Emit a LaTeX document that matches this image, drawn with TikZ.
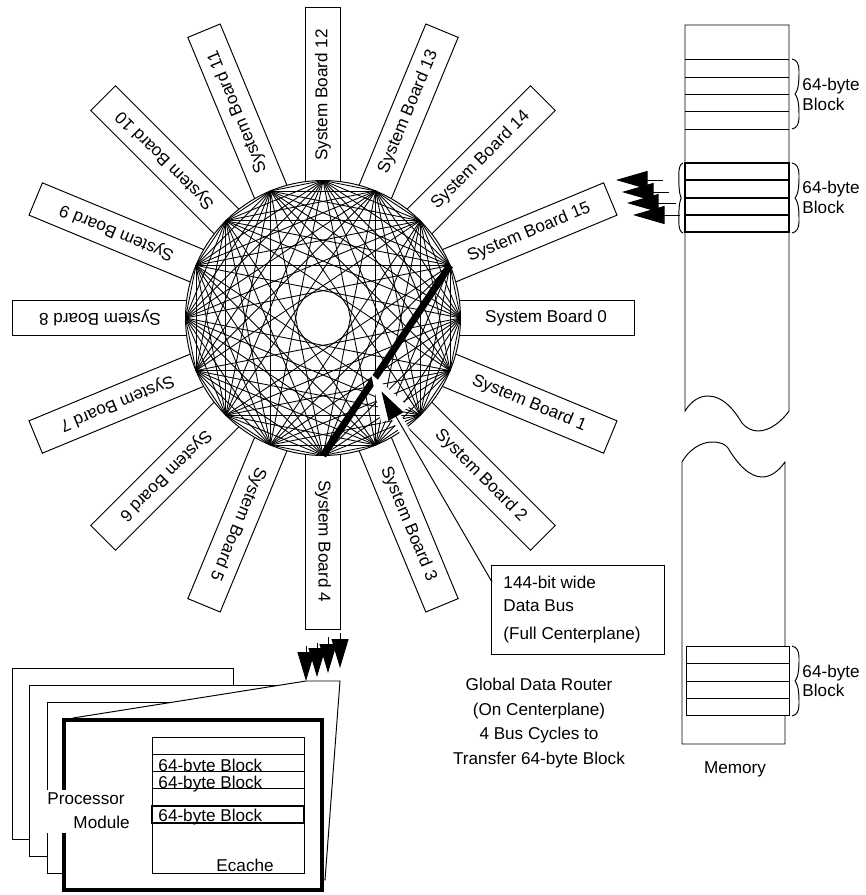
\documentclass[tikz,border=0pt]{standalone}
\usepackage{fontspec}
\setmainfont{Liberation Sans}
\usetikzlibrary{arrows.meta}

\begin{document}
\begin{tikzpicture}[x=0.02cm,y=-0.02cm,line width=0.55pt,font=\fontsize{9.75}{11}\selectfont]
        \tikzstyle{board}=[draw,fill=white,inner sep=0pt,minimum width=3.52cm,minimum height=0.7cm]
        \tikzstyle{chord}=[line width=0.5pt]
        \tikzstyle{heavy}=[line width=1.5pt]
        \tikzstyle{headin}=[-{Triangle[length=0.63cm,width=0.36cm]}]
        \tikzstyle{block}=[align=left,inner sep=0pt,anchor=west]
        \tikzstyle{plain}=[inner sep=0pt,anchor=west]
        \tikzstyle{cacheline}=[inner sep=0pt,anchor=base west]
        \def\blockbrace{(0,0) .. controls (5,1) and (7,5) .. (7,12) .. controls (7,20) and (7,30) .. (3,35) .. controls (7,40) and (7,50) .. (7,58) .. controls (7,65) and (5,69) .. (0,70)}

        \useasboundingbox (0,0) rectangle (865,895);

        \foreach \i in {0,...,15} {
            \node[board,rotate=-22.5*\i] (board\i) at ([shift={(323,318)}]22.5*\i:223) {System Board \i};
            \coordinate (v\i) at ([shift={(323,318)}]22.5*\i:137.5);
        }
        \node[circle,draw,fill=white,inner sep=0pt,minimum size=5.5cm] (router) at (323,318) {};
        \foreach \i in {0,...,14} {
            \pgfmathtruncatemacro\first{\i+1}
            \foreach \j in {\first,...,15} {
                \pgfmathtruncatemacro\gap{\j-\i}
                \ifnum\gap=8\else\draw[chord] (v\i) -- (v\j);\fi
            }
        }
        \draw[line width=0.14cm] (v4) -- (v15);

        \node[draw,minimum width=3.46cm,minimum height=1.78cm] (bus) at (578.4,609.5) {};
        \node[plain] (busa) at (503,582) {144-bit wide};
        \node[plain] (busb) at (503,606) {Data Bus};
        \node[plain] (busc) at (503,635) {(Full Centerplane)};
        \coordinate (busfoot) at (492,582);
        \coordinate (bustip) at (381.5,391.5);
        \coordinate (bushalo) at (370,372);
        \draw[white,line width=0.2cm,-{Triangle[length=1cm,width=0.58cm]}] (447,504) -- (bushalo);
        \draw[-{Triangle[length=0.58cm,width=0.34cm]}] (busfoot) -- (bustip);

        % memory
        \draw[fill=white] (685,411) -- (685,25) -- (789,25) -- (789,411) .. controls (782,421) and (770,431) .. (758,431) .. controls (752,431) and (746,428) .. (742,423) .. controls (733,408) and (722,396) .. (708,396) .. controls (700,396) and (692,400) .. cycle;
        \draw[fill=white] (682,462) -- (682,744) -- (785,744) -- (785,462) .. controls (778,472) and (770,477) .. (762,477) .. controls (750,477) and (738,465) .. (728,448) .. controls (725,444) and (720,442) .. (712,442) .. controls (700,442) and (688,451) .. cycle;
        \foreach \y in {59,77,94,111,129} \draw (685,\y) -- (789,\y);
        \draw[fill=white] (686,646) rectangle (789,715);
        \foreach \y in {663,681,698} \draw (686,\y) -- (789,\y);
        \foreach \y in {163,180,198,215,232} \draw[heavy] (685,\y) -- (789,\y);
        \draw[heavy] (685,163) rectangle (789,232);
        \foreach \y in {59,163,646} \draw[shift={(792,\y)}] \blockbrace;
        \draw[shift={(683,163)},xscale=-0.6] \blockbrace;
        \node[block] (blocka) at (802,94.5) {64-byte\\Block};
        \node[block] (blockb) at (802,197.5) {64-byte\\Block};
        \node[block] (blockc) at (802,681) {64-byte\\Block};
        \node (memory) at (735,769) {Memory};

        \foreach \tipx/\tipy/\tailx in {616/180/663,622/192/669,627/203/676,633/215/680} {
            \coordinate (tail) at (\tailx,\tipy);
            \coordinate (head) at (\tipx,\tipy);
            \draw[headin] (tail) -- (head);
        }
        \foreach \tipx/\tipy/\taily in {306/681/646,317/677/643,328/673/637,340/668/633} {
            \coordinate (tail) at (\tipx,\taily);
            \coordinate (head) at (\tipx,\tipy);
            \draw[-{Triangle[length=0.58cm,width=0.34cm]}] (tail) -- (head);
        }

        % processor modules
        \draw[fill=white] (12,668) rectangle (233,839);
        \draw[fill=white] (29,685) rectangle (280,856);
        \draw[fill=white] (47,702) rectangle (200,873);
        \draw[fill=white] (73,718) -- (306,681) -- (340,681) -- (325,880) -- (73,880) -- cycle;
        \draw[line width=2.2pt,fill=white] (64,720) rectangle (322,890);
        \fill[white] (44,790) rectangle (131,833);
        \node[plain] (proca) at (47,799) {Processor};
        \node[plain] (procb) at (73,822) {Module};

        \draw (152,737) rectangle (304,873);
        \draw (152,754) -- (304,754);
        \node[cacheline] (linea) at (158,771) {64-byte Block};
        \draw[fill=white] (152,771) rectangle (304,788);
        \node[cacheline] (lineb) at (158,788) {64-byte Block};
        \draw[fill=white] (152,788) -- (304,788);
        \node[cacheline] (linec) at (158,821) {64-byte Block};
        \draw[heavy] (152,806) rectangle (304,823);
        \node[cacheline] (ecache) at (216,871) {Ecache};

        \node[align=center,inner sep=0pt] (title) at (539,723) {Global Data Router\\[3pt](On Centerplane)\\[3pt]4 Bus Cycles to\\[3pt]Transfer 64-byte Block};
\end{tikzpicture}
\end{document}
